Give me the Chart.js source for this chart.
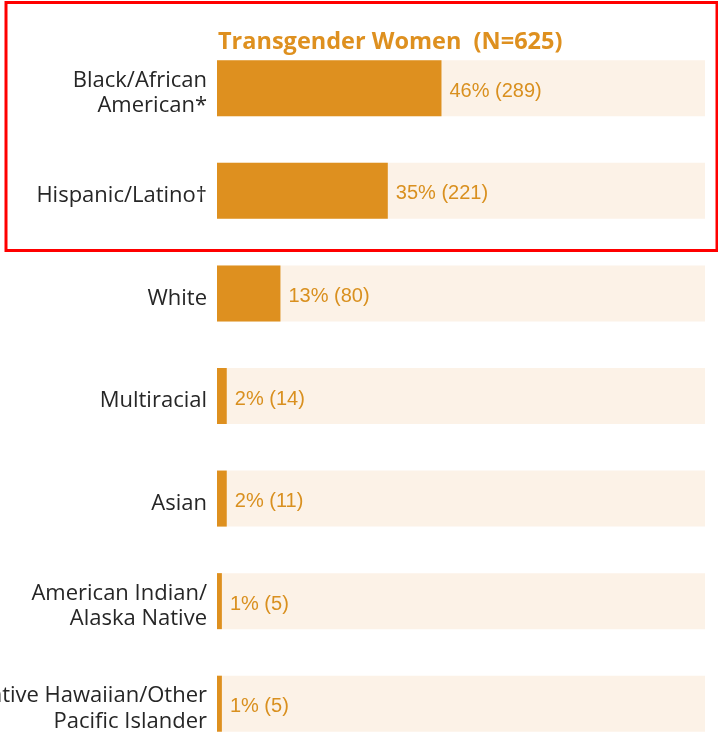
<!DOCTYPE html>
<html>
<head>
<meta charset="utf-8">
<script src="https://cdn.jsdelivr.net/npm/chart.js@4/dist/chart.umd.min.js"></script>
<style>
  html, body { margin: 0; padding: 0; background: #ffffff; overflow: hidden; }
  #wrap { width: 718px; height: 735px; overflow: hidden; position: relative; }
  #c { position: absolute; left: 0; top: 0; }
</style>
</head>
<body>
<div id="wrap"><canvas id="c" width="718" height="760"></canvas></div>
<script>
// ---- Data ----
const categories = [
  ["Black/African", "American*"],
  "Hispanic/Latino\u2020",
  "White",
  "Multiracial",
  "Asian",
  ["American Indian/", "Alaska Native"],
  ["Native Hawaiian/Other", "Pacific Islander"]
];
const percentValues = [46, 35, 13, 2, 2, 1, 1];
const countValues = [289, 221, 80, 14, 11, 5, 5];
const trackValues = [100, 100, 100, 100, 100, 100, 100];
const chartTitle = "Transgender Women  (N=625)";

const ORANGE = "#DE901F";
const TRACK = "#FCF2E7";

const valueLabels = {
  id: "valueLabels",
  afterDatasetsDraw(chart) {
    const ctx = chart.ctx;
    const meta = chart.getDatasetMeta(0);
    ctx.save();
    ctx.font = "20px 'Liberation Sans', Arial, sans-serif";
    ctx.fillStyle = "#D9901F";
    ctx.textAlign = "left";
    ctx.textBaseline = "middle";
    meta.data.forEach((bar, i) => {
      ctx.fillText(percentValues[i] + "% (" + countValues[i] + ")", bar.x + 8, bar.y + 3);
    });
    // title
    ctx.font = "bold 23.5px 'Open Sans', 'Liberation Sans', sans-serif";
    ctx.fillStyle = ORANGE;
    ctx.textBaseline = "alphabetic";
    ctx.fillText(chartTitle, chart.chartArea.left + 1, 49);
    ctx.restore();
  }
};

const highlightBox = {
  id: "highlightBox",
  beforeDraw(chart) {
    const ctx = chart.ctx;
    ctx.save();
    ctx.fillStyle = "#ffffff";
    ctx.fillRect(0, 0, chart.width, chart.height);
    ctx.restore();
  },
  afterDraw(chart) {
    const ctx = chart.ctx;
    ctx.save();
    ctx.strokeStyle = "#FF0000";
    ctx.lineWidth = 3;
    ctx.strokeRect(6, 2.5, 711, 248);
    ctx.restore();
  }
};

new Chart(document.getElementById("c"), {
  type: "bar",
  data: {
    labels: categories,
    datasets: [
      {
        label: "Percent",
        data: percentValues,
        backgroundColor: ORANGE,
        borderWidth: 0,
        grouped: false,
        order: 0,
        categoryPercentage: 1,
        barPercentage: 0.546
      },
      {
        label: "Track",
        data: trackValues,
        backgroundColor: TRACK,
        borderWidth: 0,
        grouped: false,
        order: 1,
        categoryPercentage: 1,
        barPercentage: 0.546
      }
    ]
  },
  options: {
    indexAxis: "y",
    responsive: false,
    animation: false,
    devicePixelRatio: 1,
    layout: { padding: { top: 37, bottom: 5, right: 13, left: 0 } },
    plugins: {
      legend: { display: false },
      tooltip: { enabled: false },
      title: { display: false }
    },
    scales: {
      x: {
        display: false,
        min: 0,
        max: 100
      },
      y: {
        grid: { display: false, drawTicks: false },
        border: { display: false },
        afterFit(scale) {
          scale.width = 217;
          scale.paddingTop = 0;
          scale.paddingBottom = 0;
        },
        ticks: {
          padding: 10,
          labelOffset: 5,
          color: "#262626",
          font: { family: "'Open Sans', 'Liberation Sans', sans-serif", size: 22, lineHeight: 1.15 },
          crossAlign: "near"
        }
      }
    }
  },
  plugins: [valueLabels, highlightBox]
});
</script>
</body>
</html>
